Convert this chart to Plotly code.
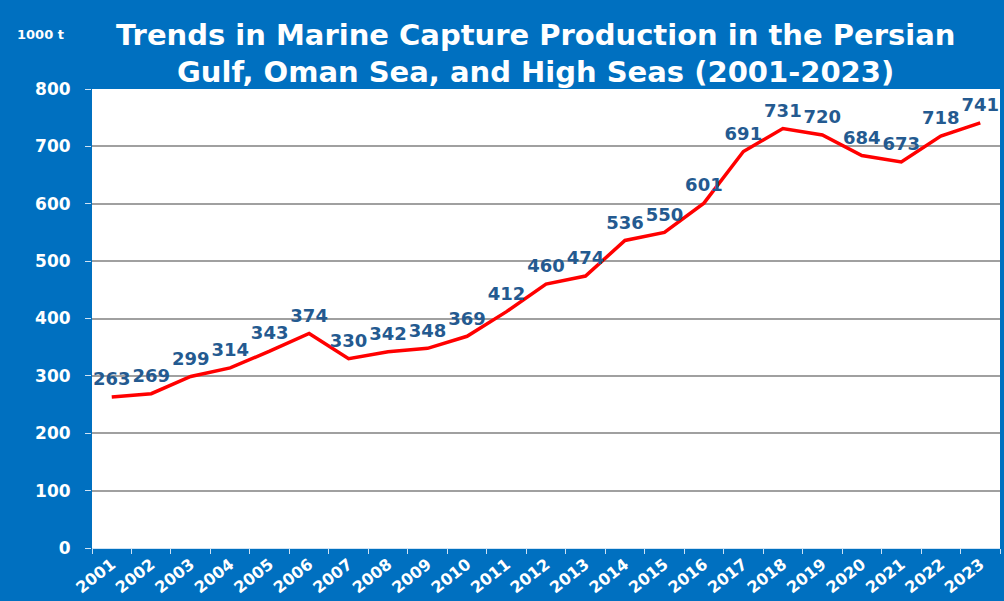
import plotly.graph_objects as go

years = [str(y) for y in range(2001, 2024)]
production = [263, 269, 299, 314, 343, 374, 330, 342, 348, 369, 412, 460, 474,
              536, 550, 601, 691, 731, 720, 684, 673, 718, 741]
y_ticks = [0, 100, 200, 300, 400, 500, 600, 700, 800]
title_lines = ["Trends in Marine Capture Production in the Persian",
               "Gulf, Oman Sea, and High Seas (2001-2023)"]

BLUE = "#0070C0"
FONT = "DejaVu Sans"

fig = go.Figure()
fig.add_trace(go.Scatter(
    x=years, y=production,
    mode="lines+markers+text",
    line=dict(color="#FF0000", width=3.5),
    # invisible markers give the value labels some clearance above the line
    marker=dict(size=10, color="rgba(0,0,0,0)"),
    text=[str(v) for v in production],
    textposition="top center",
    textfont=dict(family=FONT, size=18, color="#245A90", weight="bold"),
    cliponaxis=False,
    hoverinfo="x+y",
))

# two-line heading placed above the plot area
title_ann = [
    dict(text=line, xref="paper", yref="paper", x=0.488, y=yy,
         xanchor="center", yanchor="middle", showarrow=False,
         font=dict(family=FONT, size=29, color="white", weight="bold"))
    for line, yy in zip(title_lines, [1.118, 1.037])
]
unit_ann = dict(
    text="1000 t", xref="paper", yref="paper", x=-0.085, y=1.118,
    xanchor="left", yanchor="middle", showarrow=False,
    font=dict(family=FONT, size=13, color="white", weight="bold"),
)

fig.update_layout(
    width=1004, height=601,
    paper_bgcolor=BLUE, plot_bgcolor="white",
    margin=dict(l=92, r=4, t=89, b=53),
    showlegend=False,
    annotations=title_ann + [unit_ann],
)

fig.update_xaxes(
    type="category", range=[-0.5, 22.5],
    tickangle=-38,
    tickfont=dict(family=FONT, size=16, color="white", weight="bold"),
    ticks="outside", tickson="boundaries", ticklen=5, tickcolor="#cfe3f5",
    showgrid=False, showline=True, linecolor="#cfe3f5", linewidth=1,
)
fig.update_yaxes(
    range=[0, 800], tickvals=y_ticks,
    tickfont=dict(family=FONT, size=17, color="white", weight="bold"),
    ticks="outside", ticklen=6, tickcolor="#cfe3f5", ticklabelstandoff=11,
    showgrid=True, gridcolor="#a0a0a0", gridwidth=1.5,
    zeroline=False, showline=False,
)

fig.write_html("out.html")
